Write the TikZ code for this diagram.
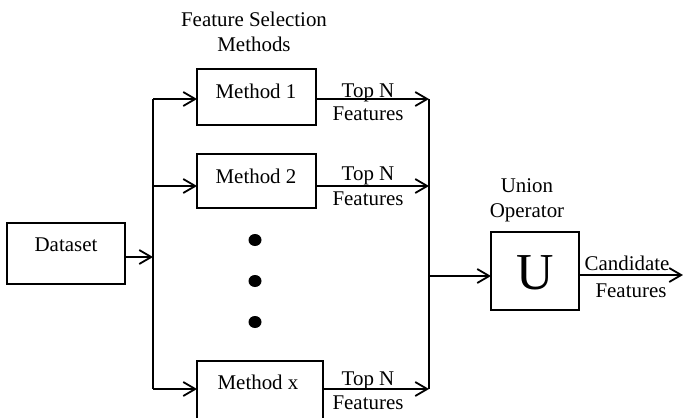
\documentclass[tikz,border=0pt]{standalone}
\usepackage{fontspec}
\setmainfont{Liberation Serif}
\usetikzlibrary{arrows.meta,shapes.geometric}
\begin{document}
\begin{tikzpicture}[x=1bp,y=-1bp,
  txt/.style={inner sep=0pt,anchor=base,font=\fontsize{21}{25}\selectfont},
  blk/.style={draw,line width=2bp,inner sep=0pt,outer sep=0pt},
  flow/.style={line width=1.8bp,-{Straight Barb[length=12bp,width=14bp,line width=1.8bp]}},
  wire/.style={line width=1.8bp},
  dot/.style={fill,ellipse,minimum width=13bp,minimum height=12bp,inner sep=0pt}]
\useasboundingbox (0,0) rectangle (683,417);
% boxes
\node[blk,minimum width=119bp,minimum height=56bp] (M1) at (256.5,97) {};
\node[blk,minimum width=119bp,minimum height=54bp] (M2) at (256.5,181) {};
\node[blk,minimum width=126bp,minimum height=64bp] (MX) at (260,393) {};
\node[blk,minimum width=118bp,minimum height=61bp] (DS) at (66,253.5) {};
\node[blk,minimum width=88bp,minimum height=78bp] (UN) at (535,271) {};
% texts
\node[txt] (fs1) at (254,26) {Feature Selection};
\node[txt] (fs2) at (254,51.5) {Methods};
\node[txt] (t1) at (256,98) {Method 1};
\node[txt] (t2) at (256,183) {Method 2};
\node[txt] (tx) at (258,389) {Method x};
\node[txt] (td) at (66,251.5) {Dataset};
\node[txt] (tu1) at (527,192) {Union};
\node[txt] (tu2) at (527,217) {Operator};
\node[inner sep=0pt,anchor=base,font=\fontsize{52}{52}\selectfont] (U) at (535,289) {U};
\node[txt] (a1) at (368,97) {Top N};
\node[txt] (b1) at (368,120) {Features};
\node[txt] (a2) at (368,180.5) {Top N};
\node[txt] (b2) at (368,205.5) {Features};
\node[txt] (ax) at (368,385) {Top N};
\node[txt] (bx) at (368,409) {Features};
\node[txt] (c1) at (627,270) {Candidate};
\node[txt] (c2) at (631,297) {Features};
% dots
\node[dot] (d1) at (255,240) {};
\node[dot] (d2) at (255,281) {};
\node[dot] (d3) at (255,322) {};
% left splitter
\coordinate (l1) at (153,99);
\coordinate (l2) at (153,186);
\coordinate (lx) at (153,389);
\coordinate (ld) at (153,257);
\draw[wire] (l1) -- (lx);
\draw[flow] (DS.east |- ld) -- (ld);
\draw[flow] (l1) -- (M1.west |- l1);
\draw[flow] (l2) -- (M2.west |- l2);
\draw[flow] (lx) -- (MX.west |- lx);
% right collector
\coordinate (r1) at (429,99);
\coordinate (r2) at (429,186);
\coordinate (rx) at (429,389);
\coordinate (ru) at (429,276);
\coordinate (out) at (683,275);
\draw[wire] (r1) -- (rx);
\draw[flow] (M1.east |- r1) -- (r1);
\draw[flow] (M2.east |- r2) -- (r2);
\draw[flow] (MX.east |- rx) -- (rx);
\draw[flow] (ru) -- (UN.west |- ru);
\draw[flow] (UN.east |- out) -- (out);
\end{tikzpicture}
\end{document}
